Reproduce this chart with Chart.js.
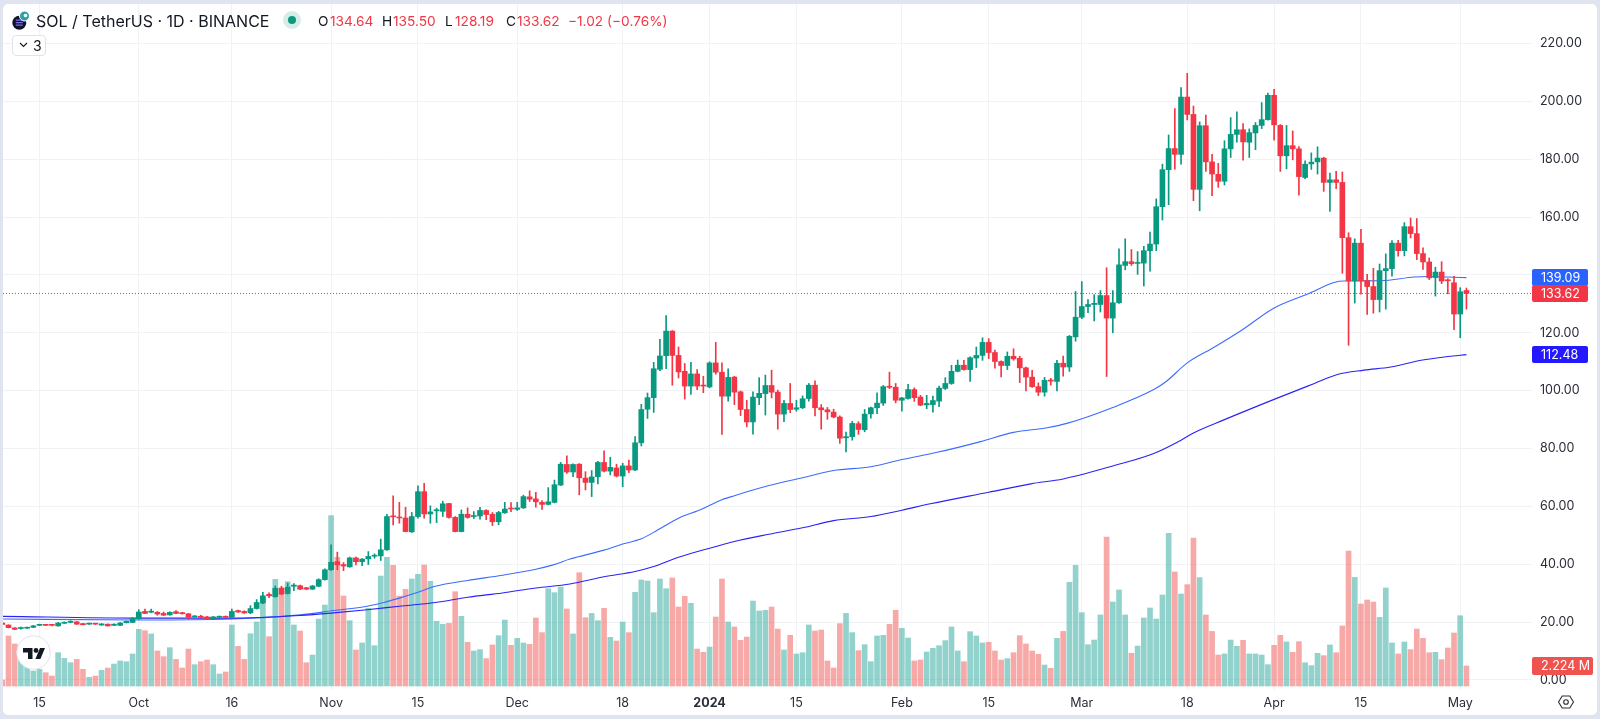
<!DOCTYPE html>
<html>
<head>
<meta charset="utf-8">
<title>SOL / TetherUS</title>
<script src="https://cdn.jsdelivr.net/npm/chart.js@4/dist/chart.umd.min.js"></script>
<style>
html,body{margin:0;padding:0;background:#e0e4ee;width:1600px;height:719px;overflow:hidden}
#card{position:absolute;left:3px;top:4px;width:1594px;height:711px;background:#fff;border-radius:5px}
canvas{position:absolute;left:0;top:0}
.t{position:absolute;font-family:Inter,sans-serif;font-size:13.7px;line-height:18px;top:12px;white-space:nowrap;color:#131722}
.r{color:#f23645}
#dot{position:absolute;left:283px;top:11px;width:18px;height:18px;border-radius:50%;background:#d5ece8}
#dot i{position:absolute;left:5px;top:5px;width:8px;height:8px;border-radius:50%;background:#089981}
#box{position:absolute;left:12px;top:35px;width:34px;height:21px;border:1px solid #e0e3eb;border-radius:4px;box-sizing:border-box;background:#fff}
svg{position:absolute}
</style>
</head>
<body>
<div id="card"></div>
<canvas id="sol-chart" width="1600" height="719"></canvas>

<svg style="left:12px;top:10px" width="20" height="21" viewBox="0 0 20 21">
<circle cx="7.3" cy="12.7" r="7" fill="#10142a"/>
<path d="M3.8 10.2h7M3.8 12.7h7M3.8 15.2h7" stroke="#7a6fe0" stroke-width="1.2"/>
<circle cx="12.5" cy="6" r="5" fill="#2f9fa8" stroke="#fff" stroke-width="1"/>
<circle cx="13.5" cy="5.5" r="1.8" fill="#fff"/>
</svg>
<div class="t" style="left:36px;font-size:16px">SOL / TetherUS · 1D · BINANCE</div>
<div id="dot"><i></i></div>
<div class="t" style="left:318px">O</div><div class="t r" style="left:330px">134.64</div>
<div class="t" style="left:382px">H</div><div class="t r" style="left:393px">135.50</div>
<div class="t" style="left:445px">L</div><div class="t r" style="left:455px">128.19</div>
<div class="t" style="left:506px">C</div><div class="t r" style="left:517px">133.62</div>
<div class="t r" style="left:568px">−1.02 (−0.76%)</div>
<div id="box"></div>
<svg style="left:18px;top:41px" width="11" height="8" viewBox="0 0 11 8"><path d="M2 2l3.5 3.5L9 2" fill="none" stroke="#131722" stroke-width="1.1"/></svg>
<div class="t" style="left:33px;top:37px;font-size:14px">3</div>

<svg style="left:16px;top:635px" width="36" height="36" viewBox="0 0 36 36">
<circle cx="17.5" cy="17.5" r="16.7" fill="#fff" stroke="#dfe3ec" stroke-width="1"/>
<path d="M7 13h9.5v11h-4.5v-6.5h-5z" fill="#131722"/>
<circle cx="20" cy="15.5" r="2.4" fill="#131722"/>
<path d="M24 13h5l-4.6 11h-5z" fill="#131722"/>
</svg>
<svg style="left:1557px;top:693px" width="18" height="18" viewBox="0 0 18 18">
<path d="M5.2 3h7.6l3.7 6-3.7 6H5.2L1.5 9z" fill="none" stroke="#2a2e39" stroke-width="1.1"/>
<circle cx="9" cy="9" r="2.3" fill="none" stroke="#2a2e39" stroke-width="1.1"/>
</svg>

<script>
// rows: open, high, low, close, volume (M). first row is 9 Sep 2023, last 2 May 2024
const rows = [
[19.7,19.9,19.1,19.2,0.67],[19.0,19.1,18.0,18.1,5.56],[18.0,18.1,17.4,17.5,4.67],[17.8,18.3,17.6,18.1,3.44],[17.9,18.3,17.8,18.1,2.15],
[18.2,18.9,18.1,18.7,1.67],[18.9,19.3,18.8,19.1,1.85],[19.1,19.2,18.8,18.9,1.48],[19.0,19.1,18.7,18.9,1.11],[18.7,19.9,18.6,19.7,3.7],
[19.6,20.1,19.5,19.8,3.07],[19.9,20.5,19.8,20.3,2.59],[20.1,20.3,19.2,19.3,2.96],[19.5,19.6,19.0,19.1,1.85],[19.3,19.7,19.2,19.6,0.96],
[19.5,19.6,19.2,19.3,1.11],[19.0,19.5,18.9,19.4,1.74],[19.3,19.4,18.6,18.7,2.0],[18.9,19.4,18.8,19.3,2.44],[18.9,19.9,18.8,19.7,2.78],
[19.8,20.4,19.7,20.3,2.7],[19.9,21.6,19.8,21.2,3.56],[21.1,24.3,21.0,23.5,6.3],[23.7,24.5,22.9,23.0,6.15],[23.4,24.5,23.3,23.8,5.78],
[23.4,23.7,22.4,22.8,3.89],[23.0,23.5,22.3,22.4,3.26],[22.5,23.6,22.4,23.4,4.26],[23.6,24.0,22.9,23.0,2.96],[23.3,23.4,22.8,22.9,2.0],
[22.9,23.0,21.0,21.7,4.11],[21.8,22.3,21.7,22.1,2.37],[22.0,22.4,21.6,21.7,2.7],[21.8,22.0,21.0,21.1,2.89],[21.2,22.0,21.1,21.8,2.37],
[21.7,22.1,21.6,22.0,1.33],[22.0,22.1,21.6,21.7,1.56],[21.7,24.5,21.6,23.7,6.78],[24.0,24.2,23.4,23.5,4.41],[23.7,23.9,23.0,23.2,2.96],
[23.2,25.7,22.9,24.7,5.81],[24.7,27.8,24.5,26.8,7.11],[26.6,30.3,26.4,29.1,9.74],[29.6,30.1,28.5,29.1,5.48],[28.8,32.5,28.6,31.7,11.85],
[31.8,32.4,29.5,29.7,10.3],[29.9,33.5,29.7,32.1,11.59],[32.4,33.3,30.9,32.8,6.78],[32.6,32.8,31.2,31.4,6.11],[31.9,32.0,31.2,31.4,2.59],
[31.4,32.7,31.3,32.5,3.44],[32.4,35.0,32.2,34.7,7.44],[34.7,38.4,34.5,38.1,9.0],[38.1,46.7,37.9,40.7,18.93],[40.9,44.2,38.1,39.8,14.3],
[39.9,40.6,37.8,39.4,10.0],[39.1,42.5,39.0,42.2,7.26],[42.2,42.5,39.8,40.9,4.0],[40.9,42.0,39.5,41.8,4.78],[41.9,44.4,39.9,42.7,8.63],
[42.8,43.6,42.1,43.0,4.48],[42.9,48.7,41.3,45.0,12.22],[45.0,57.3,44.8,56.5,14.3],[56.6,63.7,53.6,56.4,13.41],[56.3,61.4,54.2,56.0,10.0],
[56.0,59.7,51.2,51.3,10.74],[51.2,57.9,51.0,56.5,11.89],[56.5,67.1,55.9,65.1,12.41],[65.1,68.0,55.9,57.4,13.44],[57.4,60.2,54.2,58.1,11.63],
[58.5,59.4,54.4,58.8,7.19],[58.3,61.8,56.5,60.9,6.85],[61.0,61.1,55.9,56.2,6.96],[56.2,56.5,51.2,51.3,10.48],[51.3,58.8,51.2,57.3,7.74],
[57.3,59.5,55.9,56.2,4.85],[56.5,58.2,55.8,56.7,3.89],[56.7,59.7,55.6,58.6,4.04],[58.6,58.9,55.4,57.2,3.04],[57.3,57.9,53.4,54.7,4.56],
[54.7,58.3,53.7,57.9,5.59],[57.8,61.4,57.6,59.1,7.33],[59.3,61.3,58.2,59.1,4.52],[59.0,61.4,58.6,59.5,5.3],[59.5,63.9,59.3,63.4,4.78],
[63.3,65.4,61.7,62.5,4.63],[62.6,64.9,59.7,61.6,7.56],[61.4,62.0,59.0,60.7,5.93],[60.7,66.5,60.5,61.6,10.81],[61.4,69.1,61.2,67.5,10.37],
[67.4,75.2,67.2,74.6,11.0],[74.5,77.5,71.4,71.9,8.56],[71.9,74.7,70.3,74.5,5.78],[74.6,74.8,64.0,69.9,12.59],[69.8,72.0,65.7,68.3,7.59],
[68.3,72.4,63.4,70.2,8.07],[70.3,75.6,67.8,75.2,7.26],[75.2,79.2,71.9,72.2,8.63],[72.2,77.0,70.9,73.5,5.41],[73.3,74.6,70.2,70.5,5.0],
[70.5,74.9,66.8,74.0,7.11],[74.0,76.0,71.7,72.6,5.93],[72.6,84.1,72.4,82.0,10.41],[82.0,95.3,80.9,93.5,11.78],[93.6,99.2,90.4,97.6,11.67],
[97.6,109.8,92.5,107.6,8.15],[107.4,117.8,106.9,112.0,11.89],[112.1,126.0,107.6,120.6,10.81],[120.6,120.8,101.9,112.2,12.0],[112.2,115.1,104.4,106.5,8.78],
[106.7,109.4,97.1,101.6,9.96],[101.6,109.8,98.7,105.8,9.19],[105.8,107.3,100.4,101.6,4.11],[101.8,105.0,99.3,101.6,3.74],[101.3,110.0,101.0,109.6,4.33],
[109.6,116.7,105.7,106.4,7.67],[106.4,109.6,84.9,98.1,11.89],[98.1,107.6,96.4,104.6,7.11],[104.7,105.0,95.2,99.5,6.56],[99.6,99.9,91.4,93.5,5.07],
[93.5,96.7,87.5,89.2,5.44],[89.2,99.6,85.0,97.8,9.44],[97.6,104.5,95.2,99.1,8.33],[99.0,105.4,91.6,101.8,8.41],[101.8,107.1,97.5,99.5,8.78],
[99.5,100.2,86.7,91.9,6.33],[91.9,96.7,89.3,95.6,4.0],[95.6,102.5,92.4,93.5,5.63],[93.6,96.7,92.9,94.1,3.56],[94.1,98.2,93.8,97.2,3.7],
[97.3,102.5,96.4,101.9,6.78],[101.9,103.4,91.3,94.1,6.11],[94.1,95.2,86.7,93.4,6.22],[93.4,94.2,90.1,92.7,2.78],[92.6,93.6,90.6,90.9,2.0],
[90.9,91.3,81.8,83.6,6.93],[83.7,85.7,78.8,84.1,8.07],[84.1,89.4,82.9,88.7,5.93],[88.6,89.3,84.9,86.6,3.93],[86.5,93.5,85.8,91.9,4.59],
[92.0,94.3,90.5,94.1,2.7],[94.1,99.3,92.1,95.7,5.56],[95.7,101.8,94.9,101.4,5.63],[101.4,106.4,100.7,101.2,6.85],[101.2,102.5,95.8,96.7,8.41],
[96.7,97.7,92.9,97.5,6.41],[97.3,102.2,97.1,100.4,5.33],[100.4,101.0,96.3,97.6,2.78],[97.8,98.4,94.8,95.0,2.89],[95.1,98.4,93.8,95.6,3.78],
[95.2,98.1,92.6,96.6,4.19],[96.4,101.6,94.5,100.9,4.48],[100.8,104.5,100.4,102.5,5.04],[102.5,108.8,102.2,106.7,6.56],[106.7,110.6,106.5,108.8,3.89],
[108.8,110.5,107.1,107.3,2.7],[107.3,111.7,103.2,111.4,6.04],[111.3,115.1,108.0,112.2,5.56],[112.2,118.3,110.5,116.7,4.78],[116.7,118.0,111.1,113.2,4.85],
[113.2,114.0,107.8,110.1,3.89],[110.1,110.3,104.8,108.7,2.89],[108.7,113.4,107.3,111.9,3.04],[111.9,114.5,110.5,111.0,3.7],[111.2,111.9,102.8,107.9,5.59],
[107.9,108.2,99.9,104.7,4.67],[104.7,107.0,101.1,101.4,3.89],[101.4,102.7,98.3,99.5,3.52],[99.5,104.6,98.1,103.6,2.33],[103.7,104.3,101.9,103.3,1.96],
[103.2,110.5,99.9,109.5,5.3],[109.5,112.0,105.0,108.2,6.07],[108.2,119.1,106.7,118.8,11.52],[118.6,134.3,117.1,125.4,13.41],[125.4,137.7,124.9,129.1,8.15],
[129.1,131.5,127.0,129.8,4.59],[129.8,133.2,124.1,130.2,5.11],[129.8,134.6,127.2,132.9,7.89],[132.9,142.5,104.9,125.1,16.56],[125.1,134.6,120.0,130.4,9.33],
[130.4,149.0,130.2,143.5,10.67],[143.3,152.5,141.8,144.6,7.89],[144.6,148.8,143.3,143.9,3.63],[144.0,148.1,140.2,144.3,4.44],[144.1,149.9,136.2,148.4,7.56],
[148.4,154.8,141.3,150.7,8.67],[150.7,166.3,148.4,163.6,7.44],[163.6,178.3,159.0,176.4,10.11],[176.4,188.4,164.3,183.7,16.96],[183.7,197.5,176.6,181.7,12.67],
[181.7,204.8,178.3,201.5,10.22],[201.5,209.7,193.6,195.5,11.26],[195.5,198.4,165.7,169.6,16.44],[169.6,192.9,162.2,191.6,12.04],[191.6,195.3,175.8,179.1,7.89],
[179.1,181.7,167.4,174.9,6.07],[174.8,178.6,170.3,172.4,3.44],[172.4,186.4,171.1,183.6,3.56],[183.6,194.4,180.6,188.6,5.11],[188.6,196.4,185.9,190.2,4.41],
[190.2,192.3,179.7,186.0,5.07],[185.9,190.5,180.6,189.2,3.56],[189.1,192.7,183.3,191.7,3.56],[191.7,199.6,190.6,193.7,3.44],[193.7,202.9,193.5,202.1,2.37],
[202.1,204.2,186.6,191.9,4.52],[191.7,192.0,175.8,181.2,5.63],[181.2,191.7,176.7,184.7,4.89],[184.7,189.8,179.8,183.6,3.74],[183.6,184.4,167.6,174.0,4.93],
[173.7,179.5,173.3,178.3,2.59],[178.4,182.2,176.5,179.0,2.26],[179.1,184.3,174.9,180.4,3.63],[180.4,180.7,168.9,172.0,3.37],[172.0,175.2,162.0,172.9,4.56],
[172.9,175.8,169.8,172.0,3.7],[172.0,175.6,140.6,152.9,6.67],[152.9,154.6,115.7,138.0,15.0],[138.0,152.5,130.3,151.0,12.07],[151.0,155.8,133.4,138.0,9.11],
[138.1,140.2,126.4,136.0,9.56],[136.0,142.3,126.8,131.5,9.33],[131.5,143.8,127.2,141.5,7.63],[141.5,147.3,128.2,142.2,10.89],[142.2,151.9,139.6,151.0,4.78],
[151.0,152.0,146.5,148.4,3.56],[148.4,158.1,146.6,156.7,4.89],[156.7,159.7,152.8,154.3,4.04],[154.3,159.5,145.3,147.4,6.33],[147.4,149.4,141.9,144.5,5.3],
[144.5,145.9,138.4,139.0,3.7],[139.1,142.7,132.7,141.0,3.74],[141.0,144.6,137.0,137.9,2.93],[138.1,138.7,133.5,138.0,4.22],[137.3,139.5,121.1,126.5,5.89],
[126.5,135.6,118.3,134.2,7.81],[134.64,135.50,128.19,133.62,2.224]
]

// moving averages, [day index, value]
const maFast = [[0,21.1],[22,20.75],[37,21.1],[48,22.5],[53.4,24.0],[58.8,25.5],[61.5,26.8],[64,28.3],[67,30.3],[69.8,32.4],[75,34.4],[80.6,36.2],[86,38.3],[88.8,39.8],[91.5,41.8],[97,44.9],[100,47.0],[103,48.8],[105.7,51.9],[109,55.9],[112.8,59.1],[115.5,61.9],[118,63.7],[123.6,67.2],[129,69.9],[134,72.4],[140,73.7],[145,76.2],[150.7,78.7],[157.7,82.4],[163,85.6],[168.4,87.2],[171.6,88.7],[179,94.2],[185.6,100.4],[187.5,103.0],[191,109.6],[195.4,115.1],[199.7,120.8],[205,128.6],[210.5,133.5],[214.8,137.5],[216.3,137.9],[222.2,138.0],[227.6,139.3],[229.8,139.5],[233,139.3],[236,139.09]]
const maSlow = [[0,22.0],[22,21.4],[37,21.4],[48,22.3],[53.4,23.2],[58.8,24.3],[64,25.5],[69.8,26.8],[75,28.6],[80.6,30.1],[86,31.8],[91.5,33.2],[97,35.7],[102,37.5],[105,39.2],[109,42.4],[114.6,45.9],[118,47.9],[123.6,50.4],[129,52.6],[134,55.1],[140,56.5],[145,58.7],[149.6,60.9],[159,64.9],[165.8,67.8],[171,69.5],[179,74.0],[185.6,78.3],[190,82.9],[192,85.4],[197,90.0],[205,97.0],[211.5,102.5],[215.2,105.6],[219.5,107.1],[223.8,108.2],[228.7,110.5],[233,111.8],[236,112.48]]

const xLabels = {6:"15",22:"Oct",37:"16",53:"Nov",67:"15",83:"Dec",100:"18",114:"2024",128:"15",145:"Feb",159:"15",174:"Mar",191:"18",205:"Apr",219:"15",235:"May"}

const UP = "#089981"
const DOWN = "#f23645"
const isUp = r => r[3] >= r[0]
const lastClose = rows[rows.length-1][3]
const xMin = 0.113
const xMax = 246.57

const bodies = rows.map((r,i)=>({x:i,y:[r[0],r[3]]}))
const wicks = rows.map((r,i)=>({x:i,y:[r[2],r[1]]}))
const volumes = rows.map((r,i)=>({x:i,y:r[4]}))
const candleColor = c => isUp(rows[c.dataIndex]) ? UP : DOWN

/* value tags on the price axis and the volume axis */
const tagPlugin = {
id:"tags",
afterDraw(chart){
const {ctx,scales} = chart
const tags = [
{text:"139.09",y:scales.y.getPixelForValue(139.09),color:"#2962ff",w:56,h:17},
{text:lastClose.toFixed(2),y:scales.y.getPixelForValue(lastClose),color:DOWN,w:56,h:17},
{text:"112.48",y:scales.y.getPixelForValue(112.48),color:"#2318ff",w:56,h:17},
{text:"2.224 M",y:scales.vol.getPixelForValue(2.224),color:"#ef5350",w:61,h:18}
]
ctx.save()
ctx.font = "12.5px Inter, sans-serif"
ctx.textBaseline = "middle"
tags.forEach(t=>{
ctx.fillStyle = t.color
ctx.beginPath()
ctx.roundRect(1532,t.y-t.h/2,t.w,t.h,2)
ctx.fill()
ctx.fillStyle = "#fff"
ctx.fillText(t.text,1541,t.y+0.5)
})
ctx.restore()
}
}

new Chart(document.getElementById("sol-chart").getContext("2d"),{
type:"bar",
data:{
datasets:[
{
label:"Volume",
data:volumes,
yAxisID:"vol",
grouped:false,
barThickness:5,
order:5,
backgroundColor:c => isUp(rows[c.dataIndex]) ? "rgba(38,166,154,0.5)" : "rgba(239,83,80,0.5)"
},
{
type:"line",
label:"MA 100",
data:maFast.map(p=>({x:p[0],y:p[1]})),
borderColor:"#3d6bff",
borderWidth:1.1,
pointRadius:0,
cubicInterpolationMode:"monotone",
order:4
},
{
type:"line",
label:"MA 200",
data:maSlow.map(p=>({x:p[0],y:p[1]})),
borderColor:"#2a22f5",
borderWidth:1.1,
pointRadius:0,
cubicInterpolationMode:"monotone",
order:3
},
{
type:"line",
label:"Last",
data:[{x:xMin,y:lastClose},{x:xMax,y:lastClose}],
borderColor:DOWN,
borderWidth:1,
borderDash:[1,2],
pointRadius:0,
order:2
},
{
label:"Wick",
data:wicks,
grouped:false,
barThickness:1,
order:1,
backgroundColor:candleColor
},
{
label:"Candle",
data:bodies,
grouped:false,
barThickness:5,
minBarLength:1,
order:0,
backgroundColor:candleColor
}
]
},
options:{
responsive:false,
animation:false,
layout:{padding:{left:3,top:4,right:3,bottom:4}},
plugins:{legend:{display:false},tooltip:{enabled:false}},
scales:{
x:{
type:"linear",
min:xMin,
max:xMax,
offset:false,
afterBuildTicks(s){ s.ticks = Object.keys(xLabels).map(k=>({value:Number(k)})) },
afterFit(s){ s.height = 25; s.paddingLeft = 0; s.paddingRight = 0 },
border:{display:false},
grid:{color:"#f1f2f5",drawTicks:false,offset:false},
ticks:{
autoSkip:false,
maxRotation:0,
padding:6,
color:"#2a2e39",
font:c => ({family:"Inter, sans-serif",size:12.5,weight:c.tick && c.tick.value===114 ? "bold" : "normal"}),
callback:v => xLabels[v]
}
},
y:{
position:"right",
min:-3.457,
max:233.67,
afterBuildTicks(s){ s.ticks = [0,20,40,60,80,100,120,140,160,180,200,220].map(v=>({value:v})) },
// tick labels must not push the plot area in, the scale has to fill it
afterFit(s){ s.width = 65; s.paddingTop = 0; s.paddingBottom = 0 },
border:{display:false},
grid:{color:"#f1f2f5",drawTicks:false},
ticks:{
padding:8,
color:"#2a2e39",
font:{family:"Inter, sans-serif",size:12.5},
callback:v => v.toFixed(2)
}
},
vol:{
display:false,
min:-0.444,
max:75.78
}
}
},
plugins:[tagPlugin]
})
</script>
</body>
</html>
